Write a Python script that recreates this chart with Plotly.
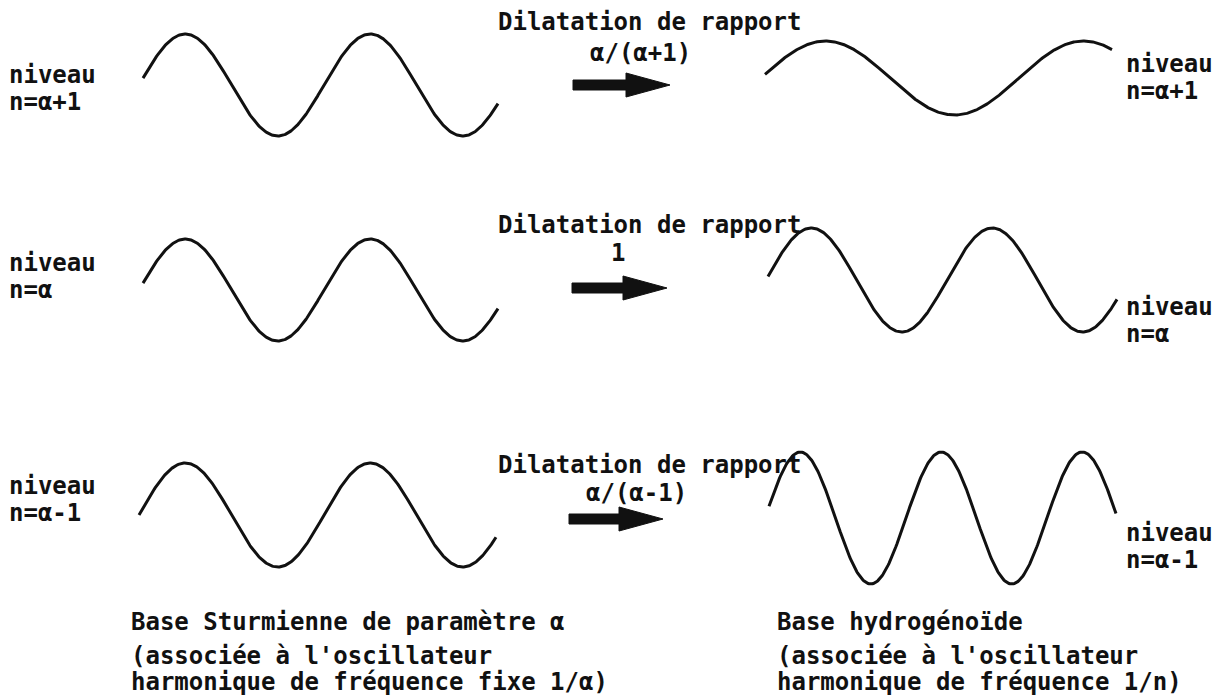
import numpy as np
import plotly.graph_objects as go

# ---------------- data ----------------
level_names = ["n=α+1", "n=α", "n=α-1"]
ratio_labels = ["α/(α+1)", "1", "α/(α-1)"]
arrow_title = "Dilatation de rapport"
left_caption = ["Base Sturmienne de paramètre α",
                "(associée à l'oscillateur",
                "harmonique de fréquence fixe 1/α)"]
right_caption = ["Base hydrogénoïde",
                 "(associée à l'oscillateur",
                 "harmonique de fréquence 1/n)"]

# wave descriptions (pixel units of the page): left = Sturmian basis, right = hydrogenic basis
left_period = [185, 185, 185]
left_amp = [51, 51, 52]
right_period = [258, 181, 141]
right_amp = [37, 52, 66]

# ---------------- layout constants ----------------
W, H = 1223, 699
FONT = "DejaVu Sans Mono"
FS = 24
INK = "#111111"

row_left_center = [85, 290, 515]
row_right_center = [78, 280, 518]
left_span = [(143, 498), (143, 498), (139, 496)]
left_zero = [139, 139, 139]
right_span = [(765, 1112), (768, 1117), (769, 1116)]
right_zero = [761, 766, 765]

left_label_y = [(75, 102), (263, 290), (486, 513)]
right_label_y = [(64, 91), (307, 334), (533, 560)]
title_y = [22, 225, 465]
ratio_y = [53, 253, 493]
ratio_x = [640, 618, 636]
arrow_y = [85, 288, 519]
arrow_x = [(573, 670), (572, 667), (569, 663)]
cap_left_y = [622, 656, 682]
cap_right_y = [622, 656, 682]

fig = go.Figure()


def wave(x0, x1, zero, period, amp, center):
    x = np.linspace(x0, x1, 400)
    y = center - amp * np.sin(2 * np.pi * (x - zero) / period)
    return x, y


def txt(s):
    return "<b>" + s + "</b>"


for i in range(3):
    x, y = wave(*left_span[i], left_zero[i], left_period[i], left_amp[i], row_left_center[i])
    fig.add_trace(go.Scatter(x=x, y=y, mode="lines", line=dict(color=INK, width=3),
                             hoverinfo="skip", showlegend=False))
    x, y = wave(*right_span[i], right_zero[i], right_period[i], right_amp[i], row_right_center[i])
    fig.add_trace(go.Scatter(x=x, y=y, mode="lines", line=dict(color=INK, width=3),
                             hoverinfo="skip", showlegend=False))

    # thick arrow
    ax0, ax1 = arrow_x[i]
    ay = arrow_y[i]
    head = 44
    sh = 5
    hh = 12
    px = [ax0, ax1 - head, ax1 - head, ax1, ax1 - head, ax1 - head, ax0, ax0]
    py = [ay - sh, ay - sh, ay - hh, ay, ay + hh, ay + sh, ay + sh, ay - sh]
    fig.add_trace(go.Scatter(x=px, y=py, mode="lines", fill="toself", fillcolor=INK,
                             line=dict(color=INK, width=1), hoverinfo="skip", showlegend=False))

    ann = dict(showarrow=False, font=dict(family=FONT, size=FS, color=INK),
               xref="x", yref="y", yanchor="middle", borderpad=0)
    fig.add_annotation(x=8, y=left_label_y[i][0], text=txt("niveau"), xanchor="left", **ann)
    fig.add_annotation(x=8, y=left_label_y[i][1], text=txt(level_names[i]), xanchor="left", **ann)
    fig.add_annotation(x=1125, y=right_label_y[i][0], text=txt("niveau"), xanchor="left", **ann)
    fig.add_annotation(x=1125, y=right_label_y[i][1], text=txt(level_names[i]), xanchor="left", **ann)
    fig.add_annotation(x=497, y=title_y[i], text=txt(arrow_title), xanchor="left", **ann)
    fig.add_annotation(x=ratio_x[i], y=ratio_y[i], text=txt(ratio_labels[i]), xanchor="center", **ann)

ann = dict(showarrow=False, font=dict(family=FONT, size=FS, color=INK),
           xref="x", yref="y", yanchor="middle", xanchor="left", borderpad=0)
for j in range(3):
    fig.add_annotation(x=130, y=cap_left_y[j], text=txt(left_caption[j]), **ann)
    fig.add_annotation(x=776, y=cap_right_y[j], text=txt(right_caption[j]), **ann)

fig.update_layout(
    width=W, height=H, autosize=False,
    margin=dict(l=0, r=0, t=0, b=0),
    paper_bgcolor="white", plot_bgcolor="white",
    xaxis=dict(range=[0, W], visible=False, fixedrange=True),
    yaxis=dict(range=[H, 0], visible=False, fixedrange=True),
    showlegend=False,
)

fig.write_html("out.html", config={"displayModeBar": False},
               post_script="document.body.style.margin='0';")
